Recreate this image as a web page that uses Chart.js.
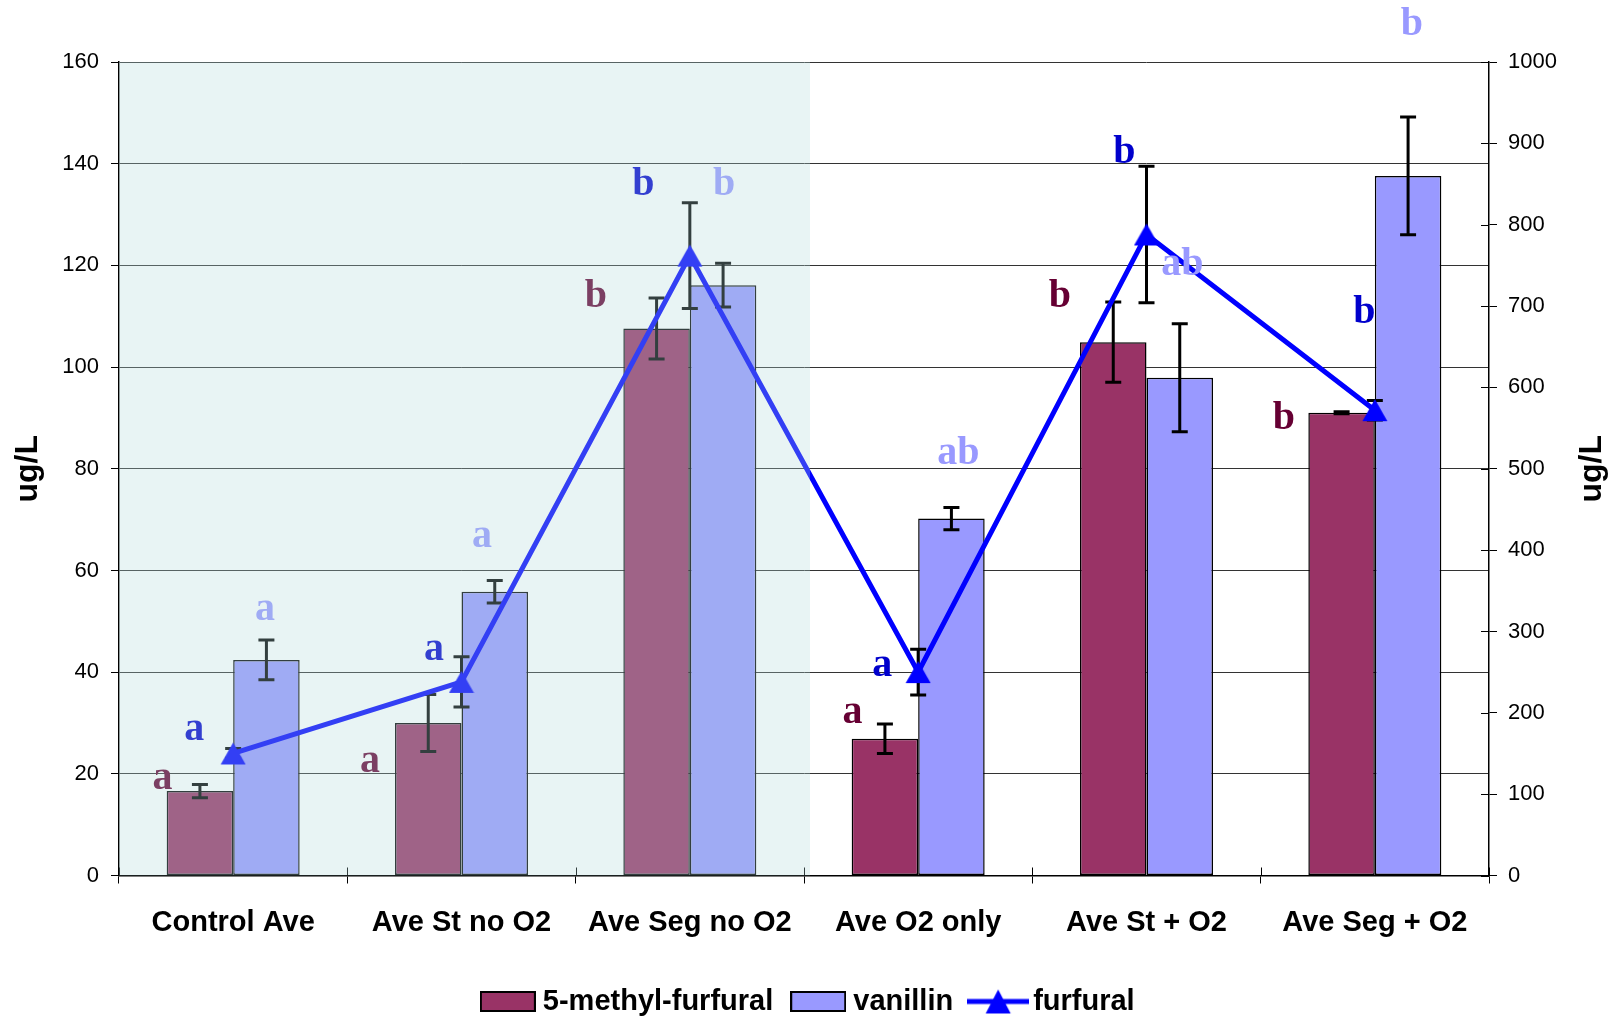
<!DOCTYPE html>
<html>
<head>
<meta charset="utf-8">
<script src="https://cdn.jsdelivr.net/npm/chart.js@4.4.1/dist/chart.umd.min.js"></script>
<style>
  html, body { margin: 0; padding: 0; background: #ffffff; }
  canvas { display: block; }
</style>
</head>
<body>
<canvas id="chart" width="1622" height="1018"></canvas>
<script>
// Treatments on the category axis
const categories = ['Control Ave', 'Ave St no O2', 'Ave Seg no O2', 'Ave O2 only', 'Ave St + O2', 'Ave Seg + O2'];

// 5-methyl-furfural (left axis, ug/L)
const methylFurfural    = [16.6, 30.0, 107.6, 26.9, 104.9, 91.0];
const methylFurfuralErr = [1.3, 5.6, 6.0, 2.9, 7.9, 0.2];

// vanillin (left axis, ug/L)
const vanillin    = [42.4, 55.8, 116.1, 70.2, 97.9, 137.6];
const vanillinErr = [3.9, 2.2, 4.3, 2.2, 10.6, 11.6];

// furfural (right axis, ug/L)
const furfural    = [150, 238, 762, 250, 788, 572];
const furfuralErr = [6, 31, 65, 28, 84, 12];

// significance letters for each series
const methylLetters   = ['a', 'a', 'b', 'a', 'b', 'b'];
const vanillinLetters = ['a', 'a', 'b', 'ab', 'ab', 'b'];
const furfuralLetters = ['a', 'a', 'b', 'a', 'b', 'b'];

// axis ranges and tick steps
const leftAxis  = { min: 0, max: 160, step: 20 };
const rightAxis = { min: 0, max: 1000, step: 100 };

// where each letter sits: [offset from category centre in category widths, height on the left axis]
const methylLetterSpots   = [[-0.310, 17.1], [-0.401, 20.4], [-0.411, 111.8], [-0.288, 30.0], [-0.379, 111.8], [-0.398, 87.9]];
const furfuralLetterSpots = [[-0.170, 26.7], [-0.120, 42.4], [-0.204, 133.8], [-0.157, 39.2], [-0.097, 140.1], [-0.046, 108.6]];
const vanillinLetterSpots = [[0.139, 50.2], [0.090, 64.7], [0.150, 133.8], [0.176, 81.0], [0.157, 118.1], [0.162, 165.4]];

const COLORS = {
  methyl: '#993366',
  vanillin: '#9999FF',
  furfural: '#0000FF',
  methylText: '#660033',
  vanillinText: '#9999FF',
  furfuralText: '#0000CC',
  shade: 'rgba(177, 218, 218, 0.29)'
};

// small canvases used as legend symbols and the furfural marker
function makeBox(fill) {
  const c = document.createElement('canvas');
  c.width = 56; c.height = 21;
  const g = c.getContext('2d');
  g.fillStyle = fill;
  g.fillRect(1, 1, 54, 19);
  g.strokeStyle = '#000';
  g.lineWidth = 2;
  g.strokeRect(1, 1, 54, 19);
  return c;
}
function drawTriangle(g, cx, cy, w, h, color) {
  g.fillStyle = color;
  g.beginPath();
  g.moveTo(cx, cy - h / 2);
  g.lineTo(cx + w / 2, cy + h / 2);
  g.lineTo(cx - w / 2, cy + h / 2);
  g.closePath();
  g.fill();
}
function makeTriangleMarker() {
  const c = document.createElement('canvas');
  c.width = 26; c.height = 24;
  drawTriangle(c.getContext('2d'), 13, 12, 25, 22, COLORS.furfural);
  return c;
}
function makeLineSymbol() {
  const c = document.createElement('canvas');
  c.width = 62; c.height = 26;
  const g = c.getContext('2d');
  g.strokeStyle = COLORS.furfural;
  g.lineWidth = 5;
  g.beginPath(); g.moveTo(0, 13); g.lineTo(62, 13); g.stroke();
  drawTriangle(g, 31, 13, 25, 24, COLORS.furfural);
  return c;
}
const legendSymbols = [makeBox(COLORS.methyl), makeBox(COLORS.vanillin), makeLineSymbol()];
const triangleMarker = makeTriangleMarker();

// error bars: bar series on top of their bars, furfural under its line
function drawErrors(chart, index) {
  const ds = chart.data.datasets[index];
  const meta = chart.getDatasetMeta(index);
  const scale = chart.scales[meta.yAxisID];
  const ctx = chart.ctx;
  ctx.save();
  ctx.strokeStyle = '#000';
  ctx.lineWidth = 3;
  meta.data.forEach((el, i) => {
    const e = ds.errors[i];
    const v = ds.data[i];
    const x = el.x;
    const yt = scale.getPixelForValue(v + e);
    const yb = scale.getPixelForValue(v - e);
    ctx.beginPath();
    ctx.moveTo(x, yt); ctx.lineTo(x, yb);
    ctx.moveTo(x - 8, yt); ctx.lineTo(x + 8, yt);
    ctx.moveTo(x - 8, yb); ctx.lineTo(x + 8, yb);
    ctx.stroke();
  });
  ctx.restore();
}

const errorBarPlugin = {
  id: 'errorBars',
  beforeDatasetDraw(chart, args) {
    if (chart.data.datasets[args.index].type === 'line') drawErrors(chart, args.index);
  },
  afterDatasetDraw(chart, args) {
    if (chart.data.datasets[args.index].type !== 'line') drawErrors(chart, args.index);
  }
};

// letters, inner tick marks, the shaded "no O2" panel and the right axis title
const decorPlugin = {
  id: 'decor',
  afterDatasetsDraw(chart) {
    const ctx = chart.ctx;
    const x = chart.scales.x;
    const y = chart.scales.y;
    const y1 = chart.scales.y1;
    const area = chart.chartArea;
    const catW = (area.right - area.left) / categories.length;

    ctx.save();
    ctx.font = 'bold 40px "Liberation Serif", "Times New Roman", serif';
    ctx.textAlign = 'center';
    ctx.textBaseline = 'alphabetic';
    const groups = [
      [methylLetters, methylLetterSpots, COLORS.methylText],
      [furfuralLetters, furfuralLetterSpots, COLORS.furfuralText],
      [vanillinLetters, vanillinLetterSpots, COLORS.vanillinText]
    ];
    groups.forEach(([letters, spots, color]) => {
      ctx.fillStyle = color;
      letters.forEach((t, i) => {
        const px = x.getPixelForValue(i) + spots[i][0] * catW;
        const py = y.getPixelForValue(spots[i][1]);
        ctx.fillText(t, px, py);
      });
    });

    // tick marks crossing into the plot
    ctx.strokeStyle = '#000';
    ctx.lineWidth = 1;
    ctx.beginPath();
    for (let i = 0; i <= categories.length; i++) {
      const px = Math.round(area.left + i * catW) + 0.5;
      ctx.moveTo(px, area.bottom); ctx.lineTo(px, area.bottom - 8);
    }
    for (let v = rightAxis.min; v <= rightAxis.max; v += rightAxis.step) {
      const py = Math.round(y1.getPixelForValue(v)) + 0.5;
      ctx.moveTo(area.right - 8, py); ctx.lineTo(area.right, py);
    }
    ctx.stroke();

    // translucent panel over the first three treatments
    const shadeRight = (x.getPixelForValue(2) + x.getPixelForValue(3)) / 2 + 6;
    ctx.fillStyle = COLORS.shade;
    ctx.fillRect(area.left, area.top, shadeRight - area.left, area.bottom - area.top);
    ctx.restore();
  },
  afterDraw(chart) {
    const ctx = chart.ctx;
    const area = chart.chartArea;
    ctx.save();
    ctx.font = 'bold 32px "Liberation Sans", Arial, sans-serif';
    ctx.fillStyle = '#000';
    ctx.textAlign = 'center';
    ctx.textBaseline = 'middle';
    ctx.translate(1592, (area.top + area.bottom) / 2);
    ctx.rotate(-Math.PI / 2);
    ctx.fillText('ug/L', 0, 0);
    ctx.restore();
  }
};

const tickFont = { family: '"Liberation Sans", Arial, sans-serif', size: 22 };
const boldFont = { family: '"Liberation Sans", Arial, sans-serif', size: 29, weight: 'bold' };

new Chart(document.getElementById('chart'), {
  data: {
    labels: categories,
    datasets: [
      {
        type: 'bar',
        label: '5-methyl-furfural',
        data: methylFurfural,
        errors: methylFurfuralErr,
        yAxisID: 'y',
        backgroundColor: COLORS.methyl,
        borderColor: '#000',
        borderWidth: 1.5,
        borderSkipped: false,
        categoryPercentage: 0.5825,
        barPercentage: 1.0,
        order: 1
      },
      {
        type: 'bar',
        label: 'vanillin',
        data: vanillin,
        errors: vanillinErr,
        yAxisID: 'y',
        backgroundColor: COLORS.vanillin,
        borderColor: '#000',
        borderWidth: 1.5,
        borderSkipped: false,
        categoryPercentage: 0.5825,
        barPercentage: 1.0,
        order: 1
      },
      {
        type: 'line',
        label: 'furfural',
        data: furfural,
        errors: furfuralErr,
        yAxisID: 'y1',
        borderColor: COLORS.furfural,
        backgroundColor: COLORS.furfural,
        borderWidth: 5,
        tension: 0,
        fill: false,
        pointStyle: triangleMarker,
        pointRadius: 13,
        pointHoverRadius: 13,
        clip: false,
        order: 0
      }
    ]
  },
  options: {
    responsive: false,
    animation: false,
    layout: { padding: { top: 62, left: 0, right: 0, bottom: -8 } },
    plugins: {
      tooltip: { enabled: false },
      legend: {
        position: 'bottom',
        labels: {
          usePointStyle: true,
          pointStyleWidth: 41,
          padding: 24.5,
          color: '#000',
          font: boldFont,
          sort: (a, b) => a.datasetIndex - b.datasetIndex,
          generateLabels(chart) {
            const items = Chart.defaults.plugins.legend.labels.generateLabels(chart);
            return items.map(it => Object.assign(it, { pointStyle: legendSymbols[it.datasetIndex], rotation: 0 }));
          }
        }
      }
    },
    scales: {
      x: {
        type: 'category',
        offset: true,
        grid: { offset: true, drawOnChartArea: false, drawTicks: true, tickLength: 8, tickColor: '#000', lineWidth: 1 },
        border: { color: '#000', width: 1.5 },
        ticks: { color: '#000', font: boldFont, padding: 22, maxRotation: 0 },
        afterFit(s) { s.height = 87; }
      },
      y: {
        position: 'left',
        min: leftAxis.min,
        max: leftAxis.max,
        ticks: { stepSize: leftAxis.step, color: '#000', font: tickFont, padding: 12 },
        grid: { color: '#333', lineWidth: 1, tickLength: 8, tickColor: '#000' },
        border: { color: '#000', width: 1.5 },
        title: { display: true, text: 'ug/L', color: '#000', font: { family: '"Liberation Sans", Arial, sans-serif', size: 32, weight: 'bold' }, padding: { top: 9, bottom: 0 } },
        afterFit(s) { s.width = 119; }
      },
      y1: {
        position: 'right',
        min: rightAxis.min,
        max: rightAxis.max,
        ticks: { stepSize: rightAxis.step, color: '#000', font: tickFont, padding: 11, callback: (v) => String(v) },
        grid: { drawOnChartArea: false, tickLength: 8, tickColor: '#000' },
        border: { color: '#000', width: 1.5 },
        afterFit(s) { s.width = 133; }
      }
    }
  },
  plugins: [errorBarPlugin, decorPlugin]
});
</script>
</body>
</html>
